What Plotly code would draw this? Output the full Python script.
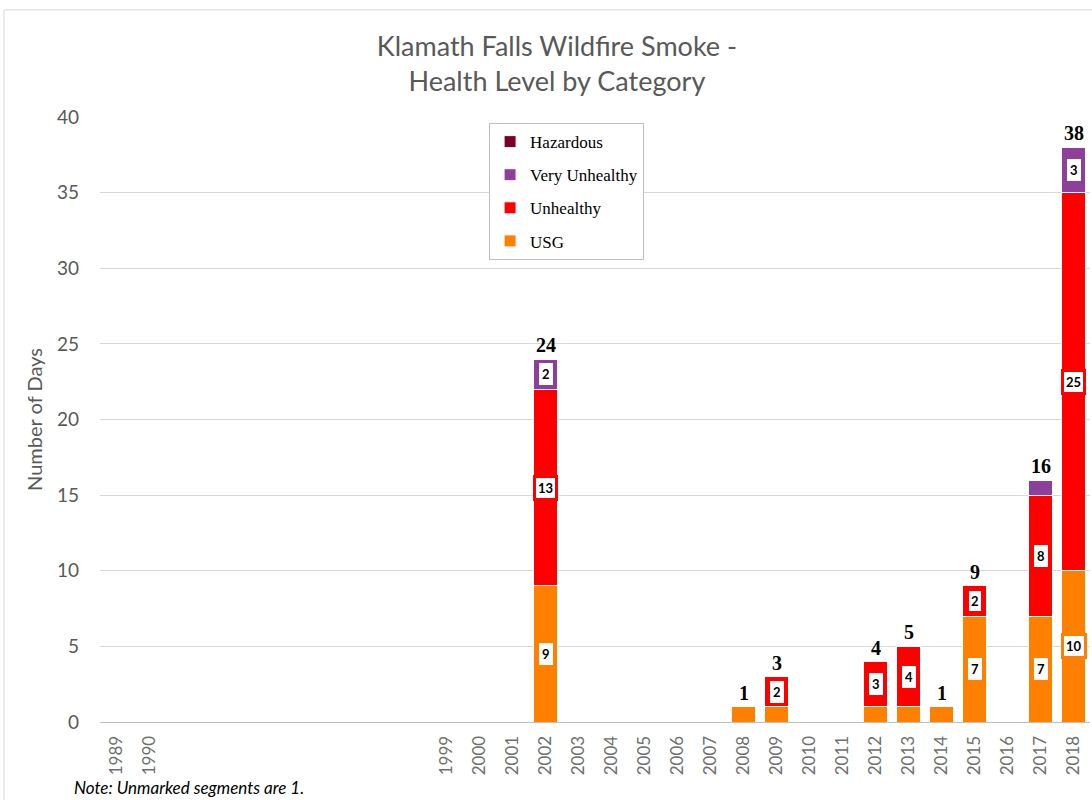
import plotly.graph_objects as go

years = [1989, 1990, 1999, 2000, 2001, 2002, 2003, 2004, 2005, 2006, 2007, 2008,
         2009, 2010, 2011, 2012, 2013, 2014, 2015, 2016, 2017, 2018]
usg =            [0, 0, 0, 0, 0, 9, 0, 0, 0, 0, 0, 1, 1, 0, 0, 1, 1, 1, 7, 0, 7, 10]
unhealthy =      [0, 0, 0, 0, 0, 13, 0, 0, 0, 0, 0, 0, 2, 0, 0, 3, 4, 0, 2, 0, 8, 25]
very_unhealthy = [0, 0, 0, 0, 0, 2, 0, 0, 0, 0, 0, 0, 0, 0, 0, 0, 0, 0, 0, 0, 1, 3]
hazardous =      [0] * len(years)
tick_years = years

series = [
    ("USG", usg, "#FF8000"),
    ("Unhealthy", unhealthy, "#FF0000"),
    ("Very Unhealthy", very_unhealthy, "#8E3F9C"),
    ("Hazardous", hazardous, "#7B0028"),
]
# segments whose label box has a coloured border
bordered = {("Unhealthy", 2002), ("Unhealthy", 2015), ("Unhealthy", 2018), ("USG", 2018)}

fig = go.Figure()
for i, (name, vals, col) in enumerate(series):
    fig.add_trace(go.Bar(
        x=years, y=vals, name=name, legendgroup=name, legendrank=1000 - i,
        marker=dict(color=col, line=dict(color="white", width=1)),
        width=0.75, hoverinfo="x+y+name",
    ))

annotations = []
base = [0] * len(years)
for name, vals, col in series:
    for j, (yr, v) in enumerate(zip(years, vals)):
        if v > 1:
            b = (name, yr) in bordered
            annotations.append(dict(
                x=yr, y=base[j] + v / 2, text="<b>%d</b>" % v, showarrow=False,
                font=dict(family="Lato", size=13, color="black"),
                bgcolor="white", borderpad=3 if not b else 2,
                bordercolor=col if b else "white", borderwidth=3 if b else 0,
            ))
    base = [a + c for a, c in zip(base, vals)]

for yr, tot in zip(years, base):
    if tot > 0:
        annotations.append(dict(
            x=yr, y=tot, text="<b>%d</b>" % tot, showarrow=False, yanchor="bottom",
            yshift=1, font=dict(family="Liberation Serif", size=20, color="black"),
        ))

annotations.append(dict(
    xref="paper", yref="paper", x=-0.028, y=-0.108, xanchor="left", yanchor="middle",
    text="<i>Note: Unmarked segments are 1.</i>", showarrow=False,
    font=dict(family="Lato", size=17, color="black"),
))

fig.update_layout(
    width=1092, height=800,
    paper_bgcolor="white", plot_bgcolor="white",
    margin=dict(l=100, r=2, t=117, b=78),
    barmode="stack",
    title=dict(text="Klamath Falls Wildfire Smoke -<br>Health Level by Category",
               x=0.51, xanchor="center", y=0.93, yanchor="middle",
               font=dict(family="Lato", size=27, color="#595959")),
    font=dict(family="Lato", color="#595959"),
    xaxis=dict(range=[1988.5, 2018.5], tickmode="array", tickvals=tick_years,
               ticktext=[str(y) for y in tick_years], tickangle=-90,
               tickfont=dict(size=17, color="#6F6F6F"), showgrid=False,
               ticklabelstandoff=6,
               showline=True, linecolor="#BFBFBF", linewidth=1, ticks=""),
    yaxis=dict(range=[0, 40], dtick=5, showgrid=True, gridcolor="#D9D9D9",
               zeroline=False, tickfont=dict(size=19, color="#595959"),
               ticklabelstandoff=20,
               title=dict(text="Number of Days", font=dict(size=20, color="#595959"), standoff=8),
               ticks=""),
    legend=dict(x=0.393, y=0.99, xanchor="left", yanchor="top", traceorder="grouped",
                bgcolor="white", bordercolor="#BFBFBF", borderwidth=1,
                font=dict(family="Liberation Serif", size=17, color="black"),
                tracegroupgap=8),
    annotations=annotations,
    shapes=[dict(type="rect", xref="paper", yref="paper", x0=-0.097, x1=1.01,
                 y0=-0.2, y1=1.177, line=dict(color="#D9D9D9", width=1), layer="below")],
)

fig.write_html("out.html", config={"displayModeBar": False},
               post_script="document.body.style.margin='0';document.body.style.overflow='hidden';")
